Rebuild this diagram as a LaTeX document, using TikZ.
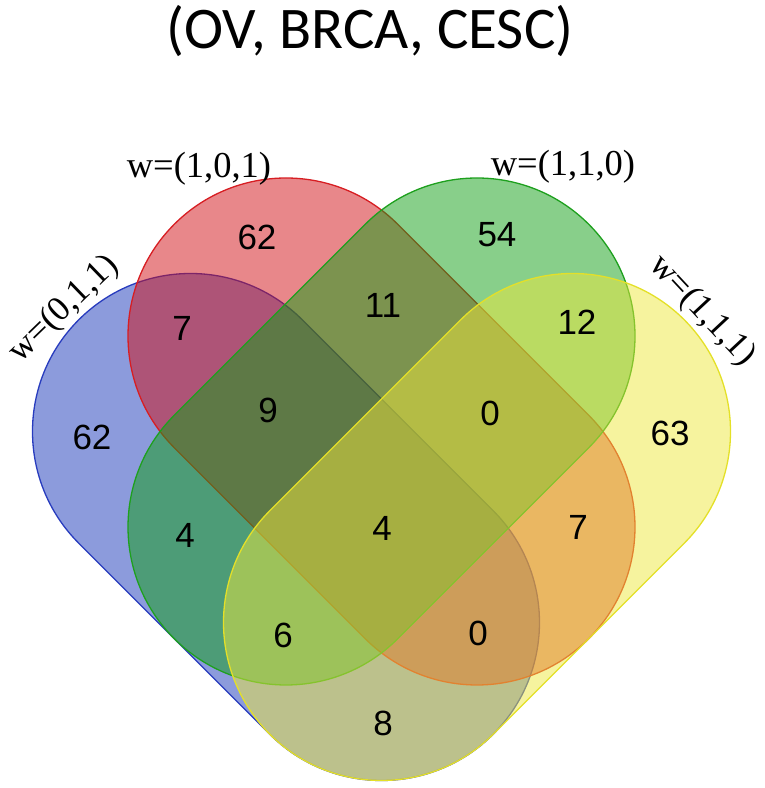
\documentclass[tikz,border=0pt]{standalone}
\usepackage{fontspec}
\setmainfont{Liberation Serif}
\newfontfamily\titlefont{Carlito}
\newfontfamily\numfont{Liberation Sans}
\definecolor{vblue}{RGB}{25,55,185}
\definecolor{vred}{RGB}{209,15,21}
\definecolor{vgreen}{RGB}{17,159,21}
\definecolor{vyellow}{RGB}{237,231,61}
\definecolor{eblue}{RGB}{40,60,190}
\definecolor{ered}{RGB}{215,30,35}
\definecolor{egreen}{RGB}{30,160,30}
\definecolor{eyellow}{RGB}{228,224,40}
\newcommand\vennstadium[4]{%
  \begin{scope}[shift={#1},rotate=#2]
    \path[fill=#3,fill opacity=0.5,draw=#4,line width=1.3pt]
      (0,-158) -- (270.1,-158) arc[start angle=-90,end angle=90,radius=158]
      -- (0,158) arc[start angle=90,end angle=270,radius=158] -- cycle;
  \end{scope}}
\begin{document}
\begin{tikzpicture}[x=1pt,y=1pt,
  num/.style={font=\numfont\fontsize{35}{36}\selectfont,inner sep=0pt,text=black},
  wlab/.style={font=\fontsize{36.5}{38}\selectfont,inner sep=0pt,text=black},
  wrot/.style={font=\fontsize{35}{36}\selectfont,inner sep=0pt,text=black}]
\useasboundingbox (0,0) rectangle (765,788);
% shapes (y up: y = 788 - pixel row)
\vennstadium{(190.5,356.5)}{-45}{vblue}{eblue}
\vennstadium{(286,452)}{-45}{vred}{ered}
\vennstadium{(477,452)}{225}{vgreen}{egreen}
\vennstadium{(572.5,356.5)}{225}{vyellow}{eyellow}
% title
\node[font=\titlefont\fontsize{59}{62}\selectfont,anchor=base,inner sep=0pt] (title) at (370,739) {(OV, BRCA, CESC)};
% set labels
\node[wlab] (l101) at (199,619) {w=(1,0,1)};
\node[wlab] (l110) at (563,621) {w=(1,1,0)};
\node[wrot,rotate=44] (l011) at (64,479) {w=(0,1,1)};
\node[wrot,rotate=-47] (l111) at (702,477) {w=(1,1,1)};
% region counts
\node[num] (r62a) at (257,551) {62};
\node[num] (r54) at (497,553) {54};
\node[num] (r7a) at (182,460) {7};
\node[num] (r11) at (383,483) {11};
\node[num] (r12) at (577,466) {12};
\node[num] (r62b) at (92,351) {62};
\node[num] (r9) at (268,378) {9};
\node[num] (r0a) at (490,375) {0};
\node[num] (r63) at (670,355) {63};
\node[num] (r4a) at (185,253) {4};
\node[num] (r4b) at (382,260) {4};
\node[num] (r7b) at (578,261) {7};
\node[num] (r6) at (283,153) {6};
\node[num] (r0b) at (478,155) {0};
\node[num] (r8) at (383,65) {8};
\end{tikzpicture}
\end{document}
